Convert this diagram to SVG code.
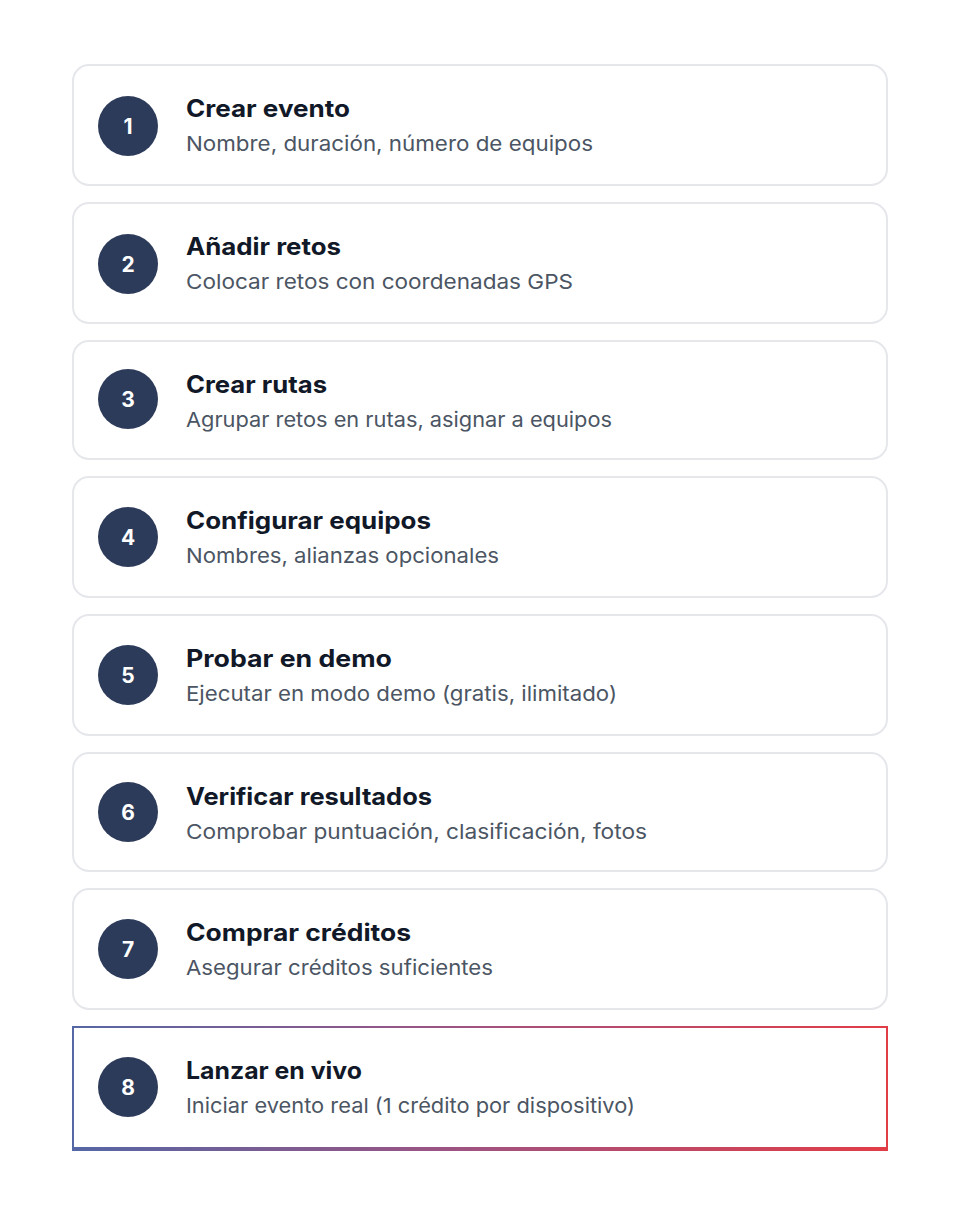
<svg xmlns="http://www.w3.org/2000/svg" width="960" height="1216" viewBox="0 0 960 1216">
<defs>
<linearGradient id="g8" x1="0" y1="0" x2="1" y2="0">
<stop offset="0" stop-color="#5567a5"/>
<stop offset="0.5" stop-color="#a2527f"/>
<stop offset="1" stop-color="#e23d47"/>
</linearGradient>
<style>
.card{fill:#fff;stroke:#e5e7eb;stroke-width:2}
.num{fill:#2d3b5a}
.nt{fill:#fff;font-family:Inter,"Liberation Sans",sans-serif;font-weight:700;font-size:21px;text-anchor:middle}
.t{fill:#111827;font-family:Inter,"Liberation Sans",sans-serif;font-weight:700;font-size:24px}
.s{fill:#4b5563;font-family:Inter,"Liberation Sans",sans-serif;font-size:20.5px}
</style>
</defs>
<rect width="960" height="1216" fill="#fff"/>
<g id="node1"><rect class="card" x="73" y="65" width="814" height="120" rx="16"/><circle class="num" cx="128" cy="126" r="30"/><text class="nt" x="128" y="134">1</text><text class="t" x="186" y="117" textLength="164" lengthAdjust="spacingAndGlyphs">Crear evento</text><text class="s" x="186" y="151" textLength="407" lengthAdjust="spacingAndGlyphs">Nombre, duración, número de equipos</text></g>
<g id="node2"><rect class="card" x="73" y="203" width="814" height="120" rx="16"/><circle class="num" cx="128" cy="264" r="30"/><text class="nt" x="128" y="272">2</text><text class="t" x="186" y="255" textLength="155" lengthAdjust="spacingAndGlyphs">Añadir retos</text><text class="s" x="186" y="289" textLength="387" lengthAdjust="spacingAndGlyphs">Colocar retos con coordenadas GPS</text></g>
<g id="node3"><rect class="card" x="73" y="341" width="814" height="118" rx="16"/><circle class="num" cx="128" cy="399" r="30"/><text class="nt" x="128" y="407">3</text><text class="t" x="186" y="393" textLength="141" lengthAdjust="spacingAndGlyphs">Crear rutas</text><text class="s" x="186" y="427" textLength="426" lengthAdjust="spacingAndGlyphs">Agrupar retos en rutas, asignar a equipos</text></g>
<g id="node4"><rect class="card" x="73" y="477" width="814" height="120" rx="16"/><circle class="num" cx="128" cy="537" r="30"/><text class="nt" x="128" y="545">4</text><text class="t" x="186" y="529" textLength="245" lengthAdjust="spacingAndGlyphs">Configurar equipos</text><text class="s" x="186" y="563" textLength="313" lengthAdjust="spacingAndGlyphs">Nombres, alianzas opcionales</text></g>
<g id="node5"><rect class="card" x="73" y="615" width="814" height="120" rx="16"/><circle class="num" cx="128" cy="675" r="30"/><text class="nt" x="128" y="683">5</text><text class="t" x="186" y="667" textLength="206" lengthAdjust="spacingAndGlyphs">Probar en demo</text><text class="s" x="186" y="701" textLength="431" lengthAdjust="spacingAndGlyphs">Ejecutar en modo demo (gratis, ilimitado)</text></g>
<g id="node6"><rect class="card" x="73" y="753" width="814" height="118" rx="16"/><circle class="num" cx="128" cy="812" r="30"/><text class="nt" x="128" y="820">6</text><text class="t" x="186" y="805" textLength="246" lengthAdjust="spacingAndGlyphs">Verificar resultados</text><text class="s" x="186" y="839" textLength="461" lengthAdjust="spacingAndGlyphs">Comprobar puntuación, clasificación, fotos</text></g>
<g id="node7"><rect class="card" x="73" y="889" width="814" height="120" rx="16"/><circle class="num" cx="128" cy="949" r="30"/><text class="nt" x="128" y="957">7</text><text class="t" x="186" y="941" textLength="225" lengthAdjust="spacingAndGlyphs">Comprar créditos</text><text class="s" x="186" y="975" textLength="307" lengthAdjust="spacingAndGlyphs">Asegurar créditos suficientes</text></g>
<g id="node8">
<rect x="72" y="1026" width="816" height="125" fill="url(#g8)"/>
<rect x="74" y="1028" width="812" height="119" fill="#fff"/>
<circle class="num" cx="128" cy="1087" r="30"/><text class="nt" x="128" y="1095">8</text><text class="t" x="186" y="1079" textLength="176" lengthAdjust="spacingAndGlyphs">Lanzar en vivo</text><text class="s" x="186" y="1113" textLength="449" lengthAdjust="spacingAndGlyphs">Iniciar evento real (1 crédito por dispositivo)</text></g>
<g id="connectors"/>
</svg>
